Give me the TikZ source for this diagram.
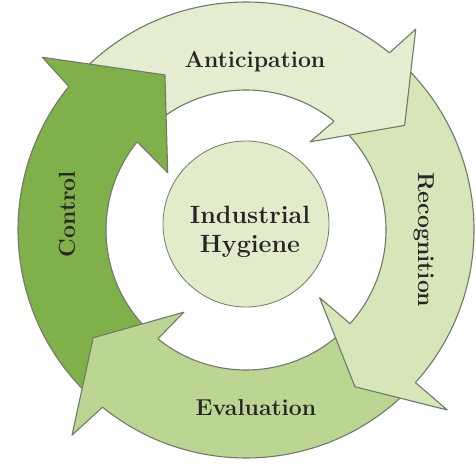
\documentclass[tikz,border=0pt]{standalone}
\usepackage{fontspec}
\definecolor{antic}{RGB}{228,237,207}
\definecolor{recog}{RGB}{214,230,184}
\definecolor{evalu}{RGB}{187,214,146}
\definecolor{contr}{RGB}{128,176,74}
\definecolor{hubfill}{RGB}{226,236,203}
\definecolor{rimgray}{RGB}{112,122,104}
\begin{document}
\begin{tikzpicture}[x=1pt,y=1pt,
    rim/.style={draw=rimgray,line width=1.1pt,line join=round},
    arclabel/.style={font=\fontsize{23}{26}\selectfont\bfseries,text=black!85,inner sep=0pt}]
  \useasboundingbox (-246,-233) rectangle (230,230);
  % ring pieces, clockwise from tail to head
  \foreach \c/\ta/\tb in {antic/137/49.5, recog/48/-43.5, evalu/-45/-130.5, contr/228/139.5}
  {
    \fill[\c] (\ta:228) arc[start angle=\ta,end angle=\tb,radius=228] -- (\tb:140) arc[start angle=\tb,end angle=\ta,radius=140] -- cycle;
    \draw[rim] (\ta:228) arc[start angle=\ta,end angle=\tb,radius=228];
    \draw[rim] (\ta:140) arc[start angle=\ta,end angle=\tb,radius=140];
  }
  % heads on top
  \foreach \c/\hb/\ia/\ir/\pa/\pr/\oa/\ob in {antic/51/54/109/33.4/190/49.8/263,
      recog/-42/-42.6/100/-55.2/191/-41.8/270,
      evalu/-129/-127.1/103/-144.8/187/-130.3/269,
      contr/141/143.8/97/117.6/175/139.7/267}
  {
    \filldraw[rim,fill=\c] (\hb:140) -- (\ia:\ir) -- (\pa:\pr) -- (\oa:\ob) -- (\hb:228);
  }
  \node[circle,draw=rimgray,line width=0.8pt,fill=hubfill,minimum size=166pt,inner sep=0pt] (hub) at (0,6) {};
  \node[font=\fontsize{25}{29}\selectfont\bfseries,align=center,text=black!85] (hubtext) at (4,-2) {Industrial\\Hygiene};

  \node[arclabel,anchor=base] (anti) at (9,162) {Anticipation};
  \node[arclabel,anchor=base,rotate=-90] (reco) at (172,-10) {Recognition};
  \node[arclabel,anchor=base] (eval) at (10,-185) {Evaluation};
  \node[arclabel,anchor=base,rotate=90] (ctrl) at (-171,16) {Control};
\end{tikzpicture}
\end{document}
